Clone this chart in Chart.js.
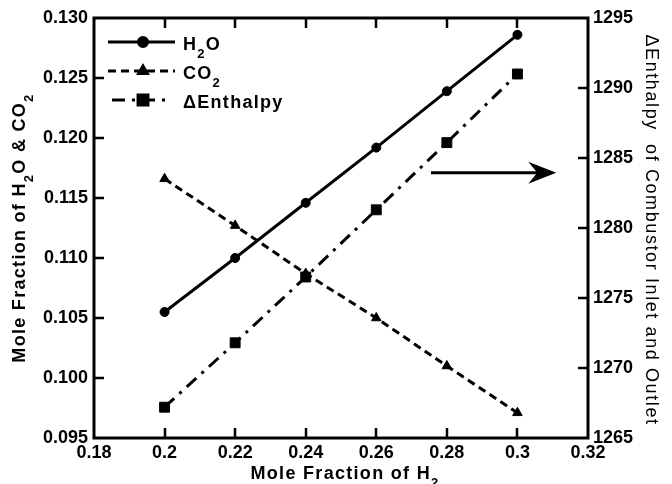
<!DOCTYPE html>
<html>
<head>
<meta charset="utf-8">
<script src="https://cdn.jsdelivr.net/npm/chart.js@4.4.0/dist/chart.umd.min.js"></script>
<style>
    html, body { margin: 0; padding: 0; background: #fff; }
    #wrap { width: 672px; height: 484px; }
</style>
</head>
<body>
<div id="wrap"><canvas id="myChart" width="672" height="484"></canvas></div>
<script>
// data
const h2Fraction = [0.20, 0.22, 0.24, 0.26, 0.28, 0.30];
const h2oFraction = [0.1055, 0.1100, 0.1146, 0.1192, 0.1239, 0.1286];
const co2Fraction = [0.1166, 0.1127, 0.1087, 0.1050, 0.1010, 0.0971];
const deltaEnthalpy = [1267.2, 1271.8, 1276.5, 1281.3, 1286.1, 1291.0];

// arrow pointing to the right axis (x in H2 fraction, y in left axis units)
const arrowStart = [0.2755, 0.1171];
const arrowEnd = [0.311, 0.1171];

const ctx = document.getElementById('myChart');
const FONT = "'Liberation Sans', Arial, sans-serif";

function pts(ys) {
    let arr = new Array();
    for (let i = 0; i < h2Fraction.length; i++) {
        arr.push({ x: h2Fraction[i], y: ys[i] });
    }
    return arr;
}

// text made of parts [text, isSub], drawn from x on baseline y
function richWidth(c, parts, size, weight, spacing) {
    let w = 0;
    for (const p of parts) {
        c.font = weight + ' ' + (p[1] ? Math.round(size * 0.7) : size) + 'px ' + FONT;
        c.letterSpacing = spacing + 'px';
        w += c.measureText(p[0]).width;
    }
    return w;
}
function drawRich(c, parts, x, y, size, weight, spacing) {
    for (const p of parts) {
        c.font = weight + ' ' + (p[1] ? Math.round(size * 0.7) : size) + 'px ' + FONT;
        c.letterSpacing = spacing + 'px';
        c.fillText(p[0], x, p[1] ? y + size * 0.42 : y);
        x += c.measureText(p[0]).width;
    }
}

const legendItems = [
    { parts: [['H', 0], ['2', 1], ['O', 0]], dash: [], style: 'circle', radius: 4.5, x0: 108, x1: 175 },
    { parts: [['CO', 0], ['2', 1]], dash: [8, 5], style: 'triangle', radius: 5, x0: 108, x1: 175 },
    { parts: [['\u0394Enthalpy', 0]], dash: [13, 7, 3, 7], style: 'rect', radius: 7, x0: 112, x1: 167 }
];

const decorPlugin = {
    id: 'decor',
    afterDraw(chart) {
        const c = chart.ctx;
        const a = chart.chartArea;
        const xs = chart.scales.x, ys = chart.scales.y, y1 = chart.scales.y1;
        c.save();
        c.strokeStyle = '#000';
        c.fillStyle = '#000';
        c.setLineDash([]);

        // inward ticks
        c.lineWidth = 2.5;
        const tl = 10;
        c.beginPath();
        xs.ticks.forEach(t => {
            if (t.value <= xs.min + 1e-9 || t.value >= xs.max - 1e-9) return;
            const px = Math.round(xs.getPixelForValue(t.value));
            c.moveTo(px, a.bottom); c.lineTo(px, a.bottom - tl);
            c.moveTo(px, a.top); c.lineTo(px, a.top + tl);
        });
        ys.ticks.forEach(t => {
            if (t.value <= ys.min + 1e-9 || t.value >= ys.max - 1e-9) return;
            const py = Math.round(ys.getPixelForValue(t.value));
            c.moveTo(a.left, py); c.lineTo(a.left + tl, py);
        });
        y1.ticks.forEach(t => {
            if (t.value <= y1.min + 1e-9 || t.value >= y1.max - 1e-9) return;
            const py = Math.round(y1.getPixelForValue(t.value));
            c.moveTo(a.right, py); c.lineTo(a.right - tl, py);
        });
        c.stroke();

        // frame
        c.lineWidth = 3;
        c.strokeRect(a.left, a.top, a.right - a.left, a.bottom - a.top);

        // arrow
        const ax0 = xs.getPixelForValue(arrowStart[0]), ay = ys.getPixelForValue(arrowStart[1]);
        const ax1 = xs.getPixelForValue(arrowEnd[0]);
        c.lineWidth = 3;
        c.beginPath();
        c.moveTo(ax0, ay); c.lineTo(ax1 - 8, ay);
        c.stroke();
        c.beginPath();
        c.moveTo(ax1, ay);
        c.lineTo(ax1 - 28, ay - 11);
        c.lineTo(ax1 - 19, ay);
        c.lineTo(ax1 - 28, ay + 11);
        c.closePath();
        c.fill();

        // legend
        legendItems.forEach((it, i) => {
            const ly = 42 + i * 29;
            c.lineWidth = 3;
            c.setLineDash(it.dash);
            c.beginPath();
            c.moveTo(it.x0, ly); c.lineTo(it.x1, ly);
            c.stroke();
            c.setLineDash([]);
            Chart.helpers.drawPoint(c, { pointStyle: it.style, radius: it.radius, rotation: 0, borderWidth: 1 }, 143, ly);
            c.textAlign = 'left';
            c.textBaseline = 'alphabetic';
            drawRich(c, it.parts, 183, ly + 8, 18, 'bold', 1.3);
        });

        // axis titles
        c.textAlign = 'left';
        c.textBaseline = 'alphabetic';
        const xt = [['Mole Fraction of H', 0], ['2', 1]];
        let w = richWidth(c, xt, 18, 'bold', 1.3);
        drawRich(c, xt, (a.left + a.right) / 2 - w / 2 + 4, 479, 18, 'bold', 1.3);

        const lt = [['Mole Fraction of H', 0], ['2', 1], ['O & CO', 0], ['2', 1]];
        w = richWidth(c, lt, 18, 'bold', 1.3);
        c.save();
        c.translate(25, (a.top + a.bottom) / 2);
        c.rotate(-Math.PI / 2);
        drawRich(c, lt, -w / 2, 0, 18, 'bold', 1.3);
        c.restore();

        const rt = [['\u0394Enthalpy  of Combustor Inlet and Outlet', 0]];
        w = richWidth(c, rt, 18, 'normal', 1.6);
        c.save();
        c.translate(646, (a.top + a.bottom) / 2 + 2);
        c.rotate(Math.PI / 2);
        drawRich(c, rt, -w / 2, 0, 18, 'normal', 1.6);
        c.restore();

        c.letterSpacing = '0px';
        c.restore();
    }
};

const tickFont = { family: FONT, size: 18, weight: 'bold' };

const myChart = new Chart(ctx, {
    type: 'line',
    data: {
        datasets: [{
            label: 'H2O',
            data: pts(h2oFraction),
            yAxisID: 'y',
            borderColor: '#000',
            backgroundColor: '#000',
            borderWidth: 3,
            pointStyle: 'circle',
            pointRadius: 4.5,
            pointBorderWidth: 1
        }, {
            label: 'CO2',
            data: pts(co2Fraction),
            yAxisID: 'y',
            borderColor: '#000',
            backgroundColor: '#000',
            borderWidth: 3,
            borderDash: [8, 5],
            pointStyle: 'triangle',
            pointRadius: 5.5,
            pointBorderWidth: 1
        }, {
            label: 'ΔEnthalpy',
            data: pts(deltaEnthalpy),
            yAxisID: 'y1',
            borderColor: '#000',
            backgroundColor: '#000',
            borderWidth: 3,
            borderDash: [13, 7, 3, 7],
            pointStyle: 'rect',
            pointRadius: 7,
            pointBorderWidth: 1
        }]
    },
    options: {
        responsive: false,
        animation: false,
        layout: { padding: { top: 18, left: 0, right: 0, bottom: 0 } },
        plugins: {
            legend: { display: false },
            tooltip: { enabled: false }
        },
        scales: {
            x: {
                type: 'linear',
                min: 0.18,
                max: 0.32,
                grid: { display: false, drawTicks: false },
                border: { display: false },
                ticks: {
                    stepSize: 0.02,
                    padding: 4,
                    color: '#000',
                    font: tickFont,
                    maxRotation: 0,
                    callback: v => (Math.round(v * 100) / 100) + ''
                },
                afterFit: s => { s.height = 46; }
            },
            y: {
                position: 'left',
                min: 0.095,
                max: 0.130,
                grid: { display: false, drawTicks: false },
                border: { display: false },
                ticks: {
                    stepSize: 0.005,
                    padding: 6,
                    color: '#000',
                    font: tickFont,
                    callback: v => v.toFixed(3)
                },
                afterFit: s => { s.width = 94; }
            },
            y1: {
                position: 'right',
                min: 1265,
                max: 1295,
                grid: { display: false, drawTicks: false },
                border: { display: false },
                ticks: {
                    stepSize: 5,
                    padding: 5,
                    color: '#000',
                    font: tickFont,
                    callback: v => Math.round(v) + ''
                },
                afterFit: s => { s.width = 84; }
            }
        }
    },
    plugins: [decorPlugin]
});
</script>
</body>
</html>
